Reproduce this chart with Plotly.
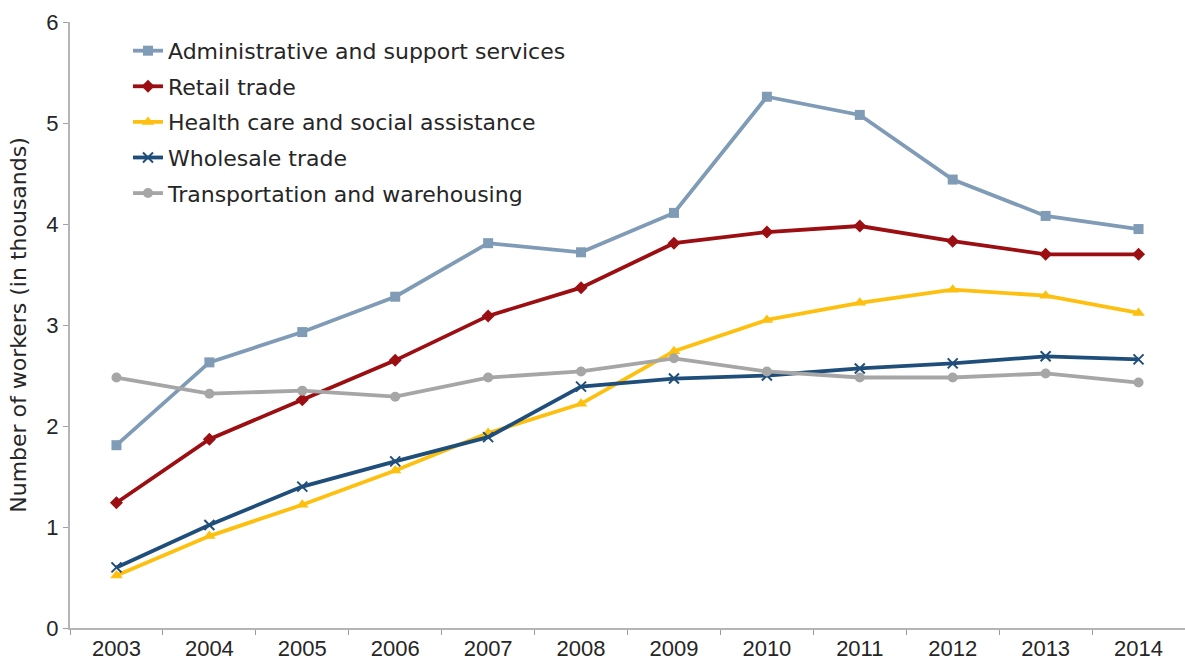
import plotly.graph_objects as go

years = ["2003", "2004", "2005", "2006", "2007", "2008", "2009", "2010", "2011", "2012", "2013", "2014"]

admin_support = [1.81, 2.63, 2.93, 3.28, 3.81, 3.72, 4.11, 5.26, 5.08, 4.44, 4.08, 3.95]
retail_trade = [1.24, 1.87, 2.26, 2.65, 3.09, 3.37, 3.81, 3.92, 3.98, 3.83, 3.70, 3.70]
health_care = [0.52, 0.91, 1.22, 1.56, 1.93, 2.22, 2.74, 3.05, 3.22, 3.35, 3.29, 3.12]
wholesale_trade = [0.60, 1.02, 1.40, 1.65, 1.89, 2.39, 2.47, 2.50, 2.57, 2.62, 2.69, 2.66]
transportation = [2.48, 2.32, 2.35, 2.29, 2.48, 2.54, 2.67, 2.54, 2.48, 2.48, 2.52, 2.43]

y_ticks = [0, 1, 2, 3, 4, 5, 6]

series = [
    ("Administrative and support services", admin_support, "#7f9bb6", "square", 10, None),
    ("Retail trade", retail_trade, "#9b0e12", "diamond", 10, None),
    ("Health care and social assistance", health_care, "#fdc010", "triangle-up", 11, None),
    ("Wholesale trade", wholesale_trade, "#1f4e7a", "x-thin-open", 10, 2),
    ("Transportation and warehousing", transportation, "#a6a6a6", "circle", 10, None),
]

fig = go.Figure()
for i, (name, vals, color, symbol, size, mlw) in enumerate(series):
    marker = dict(symbol=symbol, size=size, color=color)
    if mlw:
        marker["line"] = dict(color=color, width=mlw)
    fig.add_trace(go.Scatter(
        x=years, y=vals, name=name, mode="lines+markers",
        line=dict(color=color, width=3.8),
        marker=marker,
        legendgroup=f"g{i}",
    ))

text_font = "DejaVu Sans, Verdana, sans-serif"
tick_font = "Liberation Sans, Arial, sans-serif"
ink = "#262626"

fig.update_layout(
    width=1185, height=662,
    margin=dict(l=70, r=0, t=22, b=34),
    paper_bgcolor="white", plot_bgcolor="white",
    font=dict(family=text_font, size=22, color=ink),
    showlegend=True,
    legend=dict(
        x=0.052, y=0.987, xanchor="left", yanchor="top",
        bgcolor="rgba(0,0,0,0)", font=dict(family=text_font, size=22, color=ink),
        tracegroupgap=4,
    ),
    xaxis=dict(
        type="category", range=[-0.5, 11.5], showgrid=False, zeroline=False,
        showline=True, linecolor="#b5b5b5", linewidth=2,
        ticks="outside", tickson="boundaries", ticklen=5,
        tickcolor="#9a9a9a", tickwidth=1,
        tickfont=dict(family=tick_font, size=22, color=ink),
    ),
    yaxis=dict(
        range=[0, 6], tickvals=y_ticks, showgrid=False, zeroline=False,
        showline=True, linecolor="#b5b5b5", linewidth=2,
        ticks="outside", ticklen=5, tickcolor="#8fa6c0",
        tickfont=dict(family=tick_font, size=22, color=ink),
        title=dict(text="Number of workers (in thousands)",
                   font=dict(family=text_font, size=22, color=ink), standoff=14),
    ),
)

fig.write_html("out.html")
